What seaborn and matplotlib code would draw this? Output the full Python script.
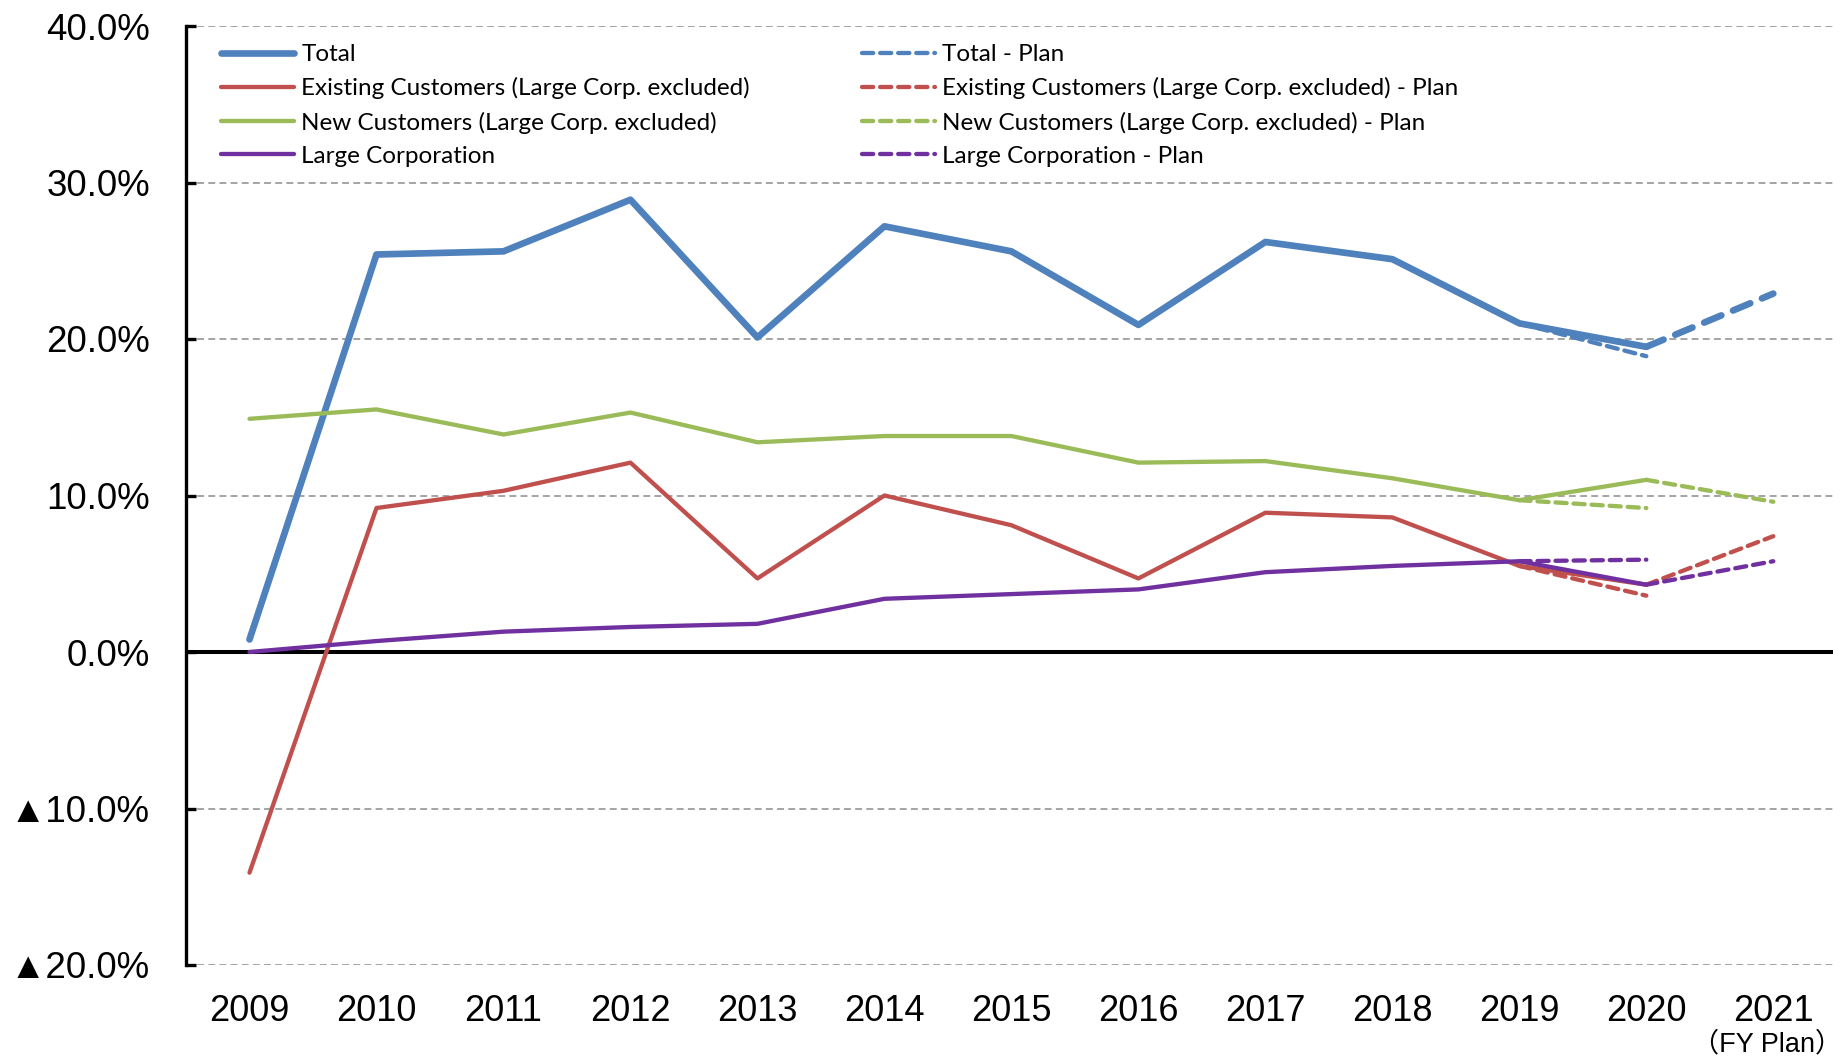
import matplotlib
matplotlib.use("Agg")
import matplotlib.pyplot as plt
import seaborn as sns
import pandas as pd
from matplotlib.ticker import FixedLocator, FixedFormatter

# ---------------- data ----------------
years = [2009, 2010, 2011, 2012, 2013, 2014, 2015, 2016, 2017, 2018, 2019, 2020]
total = [0.8, 25.4, 25.6, 28.9, 20.1, 27.2, 25.6, 20.9, 26.2, 25.1, 21.0, 19.5]
existing = [-14.1, 9.2, 10.3, 12.1, 4.7, 10.0, 8.1, 4.7, 8.9, 8.6, 5.5, 4.3]
new = [14.9, 15.5, 13.9, 15.3, 13.4, 13.8, 13.8, 12.1, 12.2, 11.1, 9.7, 11.0]
large = [0.0, 0.7, 1.3, 1.6, 1.8, 3.4, 3.7, 4.0, 5.1, 5.5, 5.8, 4.3]

# previous-year plan for FY2020 and plan for FY2021
plan_2020 = {"Total": 18.9, "Existing": 3.6, "New": 9.2, "Large": 5.9}
plan_2021 = {"Total": 22.9, "Existing": 7.4, "New": 9.6, "Large": 5.8}

series_names = ["Total", "Existing", "New", "Large"]
series_values = {"Total": total, "Existing": existing, "New": new, "Large": large}
labels = {
    "Total": "Total",
    "Existing": "Existing Customers (Large Corp. excluded)",
    "New": "New Customers (Large Corp. excluded)",
    "Large": "Large Corporation",
}
colors = {"Total": "#4F81BD", "Existing": "#C0504D", "New": "#9BBB59", "Large": "#7030A0"}

y_ticks = [-20, -10, 0, 10, 20, 30, 40]
y_tick_labels = ["▲20.0%", "▲10.0%", "0.0%", "10.0%", "20.0%", "30.0%", "40.0%"]
x_ticks = [2009, 2010, 2011, 2012, 2013, 2014, 2015, 2016, 2017, 2018, 2019, 2020, 2021]
x_tick_labels = [str(y) for y in x_ticks]
plan_note = "（FY Plan）"

# ---------------- figure ----------------
sns.set_theme(style="white")
plt.rcParams["font.family"] = ["Liberation Sans", "DejaVu Sans"]

fig = plt.figure(figsize=(18.45, 10.60), dpi=100)
ax = fig.add_axes([186 / 1845, 1 - 965 / 1060, (1833 - 186) / 1845, (965 - 26) / 1060])

df = pd.DataFrame(
    [(y, v, s) for s in series_names for y, v in zip(years, series_values[s])],
    columns=["year", "value", "series"],
)

lw_main = {"Total": 4.8, "Existing": 3.1, "New": 3.1, "Large": 3.1}
lw_plan = 3.1

actual_handles = []
plan_handles = []
for s in series_names:
    sub = df[df["series"] == s]
    sns.lineplot(data=sub, x="year", y="value", color=colors[s], linewidth=lw_main[s],
                 errorbar=None, ax=ax, label=labels[s], zorder=4,
                 solid_capstyle="round", solid_joinstyle="round")
    actual_handles.append(ax.lines[-1])

for s in series_names:
    vals = series_values[s]
    seg1 = pd.DataFrame({"year": [years[-2], years[-1]], "value": [vals[-2], plan_2020[s]]})
    sns.lineplot(data=seg1, x="year", y="value", color=colors[s], linewidth=lw_plan,
                 errorbar=None, ax=ax, label=labels[s] + " - Plan", zorder=3,
                 linestyle=(0, (2.6, 1.6)), dash_capstyle="round")
    plan_handles.append(ax.lines[-1])
    seg2 = pd.DataFrame({"year": [years[-1], 2021], "value": [vals[-1], plan_2021[s]]})
    lw2 = lw_main[s] if s == "Total" else lw_plan
    sns.lineplot(data=seg2, x="year", y="value", color=colors[s], linewidth=lw2,
                 errorbar=None, ax=ax, zorder=3,
                 linestyle=(0, (2.8, 1.9)) if s == "Total" else (0, (2.6, 1.6)),
                 dash_capstyle="round")

# axes styling
ax.set_xlim(2008.5, 2021.47)
ax.set_ylim(-20, 40)
ax.yaxis.set_major_locator(FixedLocator(y_ticks))
ax.yaxis.set_major_formatter(FixedFormatter(y_tick_labels))
ax.xaxis.set_major_locator(FixedLocator(x_ticks))
ax.xaxis.set_major_formatter(FixedFormatter(x_tick_labels))
ax.set_xlabel("")
ax.set_ylabel("")

for sp in ["top", "right", "bottom"]:
    ax.spines[sp].set_visible(False)
ax.spines["left"].set_color("black")
ax.spines["left"].set_linewidth(2.4)
ax.spines["left"].set_zorder(5)

ax.grid(axis="y", color="#8c8c8c", linestyle=(0, (4.5, 2.8)), linewidth=1.1, zorder=0)
ax.grid(axis="x", visible=False)
ax.axhline(0, color="black", linewidth=2.9, zorder=2)

ax.tick_params(axis="y", direction="in", length=7, width=2.4, color="black",
               pad=26, labelsize=26.5, labelcolor="black", left=True)
ax.tick_params(axis="x", length=0, pad=21, labelsize=26, labelcolor="black")
for t in ax.get_yticklabels():
    t.set_fontfamily(["Liberation Sans", "DejaVu Sans"])

ax.text(2020.95, -0.085, plan_note, transform=ax.get_xaxis_transform(),
        ha="center", va="center", fontsize=19.5, color="black",
        family=["Liberation Sans", "Noto Sans CJK JP"])

# legends
leg_kw = dict(frameon=False, handlelength=3.0, handletextpad=0.3,
              labelspacing=0.5, borderpad=0, borderaxespad=0, loc="upper left",
              prop={"family": ["Lato", "DejaVu Sans"], "size": 17.5})
leg1 = ax.legend(handles=actual_handles, labels=[labels[s] for s in series_names],
                 bbox_to_anchor=(221 / 1845, 1 - 44 / 1060),
                 bbox_transform=fig.transFigure, **leg_kw)
ax.add_artist(leg1)
leg2 = ax.legend(handles=plan_handles, labels=[labels[s] + " - Plan" for s in series_names],
                 bbox_to_anchor=(862 / 1845, 1 - 44 / 1060),
                 bbox_transform=fig.transFigure, **leg_kw)
for lg in (leg1, leg2):
    for t in lg.get_texts():
        t.set_color("black")

fig.savefig("out.png", dpi=100)
